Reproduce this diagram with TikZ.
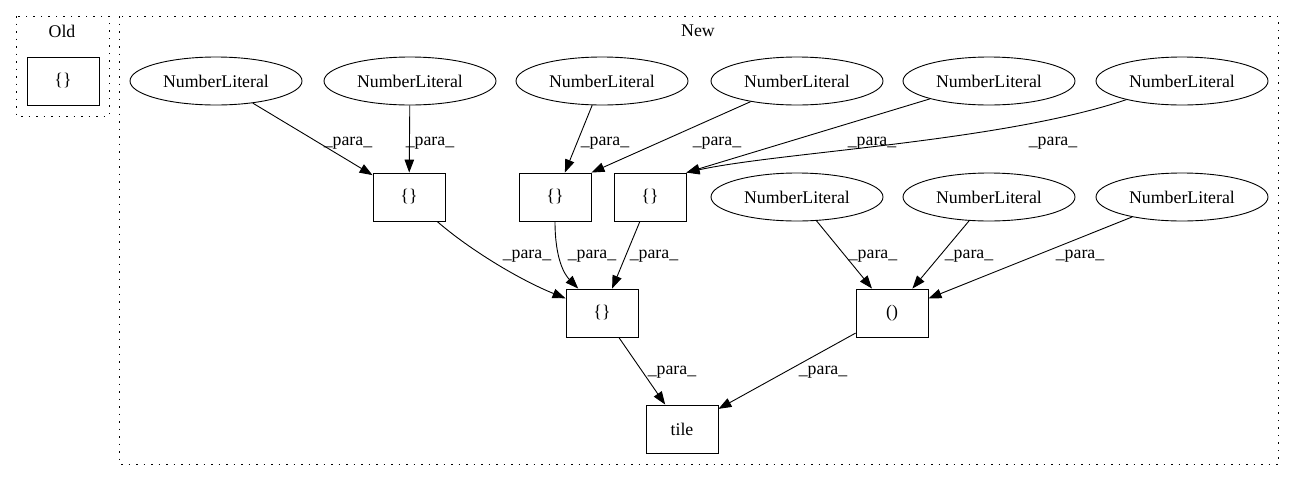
\documentclass[tikz,border=0pt]{standalone}
\usepackage{fontspec}
\setmainfont{Liberation Serif}
\usetikzlibrary{arrows.meta, shapes.geometric}

\begin{document}
\begin{tikzpicture}[x=1pt, y=-1pt,
    every node/.style={font=\fontsize{17.8}{20}\selectfont},
    lit/.style={draw, ellipse, line width=0.9pt, minimum width=172pt, minimum height=48pt, inner sep=0pt},
    op/.style={draw, rectangle, line width=0.9pt, minimum width=72pt, minimum height=48pt, inner sep=0pt},
    link/.style={-{Triangle[length=13pt,width=9.5pt]}, line width=0.9pt},
    lbl/.style={inner sep=0pt},
    cluster/.style={line width=1pt, dash pattern=on 1.5pt off 6pt}]
        \useasboundingbox (0,0) rectangle (1295,480);

        % Clusters
        \draw[cluster] (16,16) rectangle (109,116);
        \node (oldtitle) at (62,31) {Old};
        \node[op] (oldbr) at (63,81) {\{\}};
        \draw[cluster] (119,16) rectangle (1278,464);
        \node (newtitle) at (698,31) {New};

        % Literals, top row
        \node[lit] (lit1) at (216,81) {NumberLiteral};
        \node[lit] (lit2) at (410,81) {NumberLiteral};
        \node[lit] (lit3) at (602,81) {NumberLiteral};
        \node[lit] (lit4) at (797,81) {NumberLiteral};
        \node[lit] (lit5) at (989,81) {NumberLiteral};
        \node[lit] (lit6) at (1182,81) {NumberLiteral};

        % Literals, second row
        \node[lit] (lit7) at (797,197) {NumberLiteral};
        \node[lit] (lit8) at (989,197) {NumberLiteral};
        \node[lit] (lit9) at (1182,197) {NumberLiteral};

        % Operation boxes
        \node[op] (boxl) at (409,197) {\{\}};
        \node[op] (boxa) at (555,197) {\{\}};
        \node[op] (boxb) at (650,197) {\{\}};
        \node[op] (boxc) at (602,313) {\{\}};
        \node[op] (tuple) at (892,313) {()};
        \node[op] (tile) at (682,429) {tile};

        % Edges into the upper boxes
        \draw[link] (lit1) -- (boxl);
        \draw[link] (lit2) -- (boxl);
        \draw[link] (lit3) -- (boxa);
        \draw[link] (lit4) -- (boxa.north east);
        \draw[link] (lit5) -- (boxb.north east);
        \draw[link] (lit6) .. controls (1000,142) and (780,152) .. (boxb.north east);

        % Edges into the lower boxes
        \draw[link] (boxl) .. controls (470,250) and (520,280) .. (boxc);
        \draw[link] (boxa) .. controls (555,260) and (565,275) .. (boxc);
        \draw[link] (boxb) -- (boxc);
        \draw[link] (lit7) -- (tuple);
        \draw[link] (lit8) -- (tuple);
        \draw[link] (lit9) -- (tuple);
        \draw[link] (boxc) -- (tile);
        \draw[link] (tuple) -- (tile);

        % Edge labels
        \node[lbl] (p1) at (348,143) {\_para\_};
        \node[lbl] (p2) at (430,143) {\_para\_};
        \node[lbl] (p3) at (605,143) {\_para\_};
        \node[lbl] (p4) at (717,143) {\_para\_};
        \node[lbl] (p5) at (872,143) {\_para\_};
        \node[lbl] (p6) at (1053,143) {\_para\_};
        \node[lbl] (p7) at (527,256) {\_para\_};
        \node[lbl] (p8) at (592,256) {\_para\_};
        \node[lbl] (p9) at (654,256) {\_para\_};
        \node[lbl] (p10) at (873,256) {\_para\_};
        \node[lbl] (p11) at (969,256) {\_para\_};
        \node[lbl] (p12) at (1080,256) {\_para\_};
        \node[lbl] (p13) at (672,372) {\_para\_};
        \node[lbl] (p14) at (823,372) {\_para\_};
    \end{tikzpicture}
\end{document}
